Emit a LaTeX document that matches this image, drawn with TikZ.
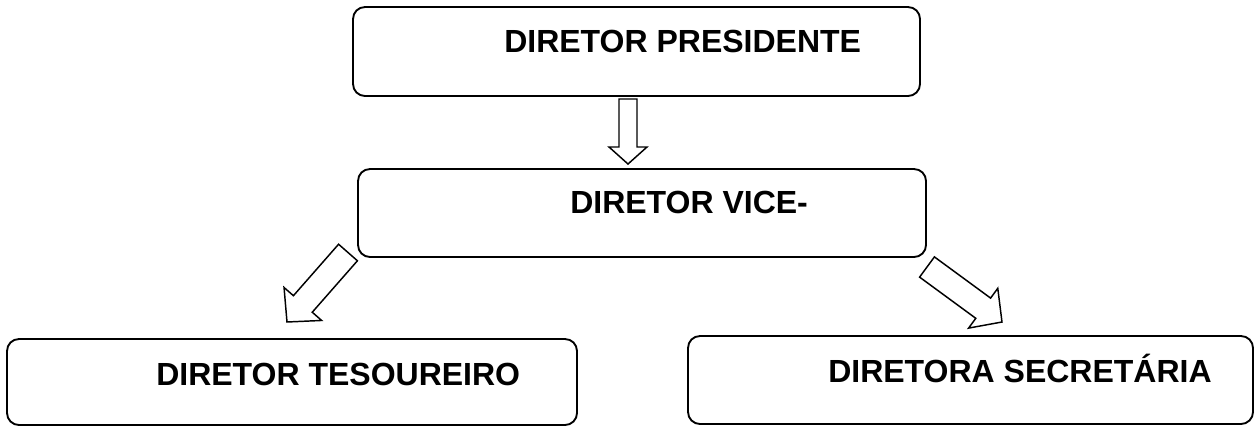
\documentclass[tikz,border=0pt]{standalone}
\usepackage{fontspec}
\setmainfont{Liberation Sans}
\usetikzlibrary{calc,fit}

\tikzset{
  caixa/.style={draw,line width=1.4pt,rounded corners=9pt,inner sep=0pt},
  rotulo/.style={inner sep=0pt,anchor=base west,font=\fontsize{24}{28}\selectfont\bfseries},
  seta/.style={draw,line width=1.1pt,fill=white,line join=miter}
}
% seta vazada: origem, ponta, meia haste, meia cabeca, comprimento da cabeca
\newcommand{\setavazada}[5]{%
  \coordinate (cab) at ($(#2)!#5!(#1)$);
  \draw[seta] ($(#1)!#3!90:(#2)$) -- ($(cab)!#3!90:(#2)$) -- ($(cab)!#4!90:(#2)$) -- (#2)
    -- ($(cab)!#4!-90:(#2)$) -- ($(cab)!#3!-90:(#2)$) -- ($(#1)!#3!-90:(#2)$) -- cycle;}

\begin{document}
\begin{tikzpicture}[x=0.75pt,y=-0.75pt]
\useasboundingbox (0,0) rectangle (1257,426);

\node[caixa,fit={(353,7) (920,96)}] (pres) {};
\node[caixa,fit={(358,169) (926,257)}] (vice) {};
\node[caixa,fit={(7,339) (577,425)}] (tes) {};
\node[caixa,fit={(688,336) (1253,424)}] (sec) {};

\node[rotulo] (presT) at (504,52) {DIRETOR PRESIDENTE};
\node[rotulo] (viceT) at (570,213) {DIRETOR VICE-};
\node[rotulo] (tesT) at (156,385) {DIRETOR TESOUREIRO};
\node[rotulo] (secT) at (828,382) {DIRETORA SECRETÁRIA};

\coordinate (s1a) at (628,99);
\coordinate (s1b) at (628,164);
\coordinate (s2a) at (348,252.5);
\coordinate (s2b) at (287,322);
\coordinate (s3a) at (927,267);
\coordinate (s3b) at (1002,322);

\setavazada{s1a}{s1b}{6.75pt}{14.25pt}{12.75pt}
\setavazada{s2a}{s2b}{9.4pt}{18.75pt}{18pt}
\setavazada{s3a}{s3b}{9.4pt}{18.5pt}{17.5pt}
\end{tikzpicture}
\end{document}
